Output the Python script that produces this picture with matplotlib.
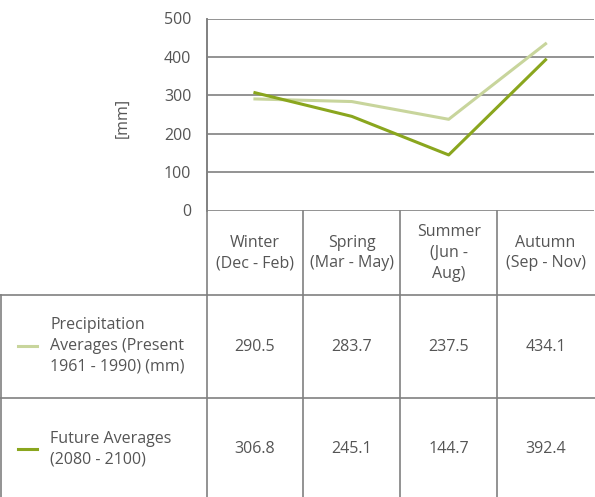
import matplotlib.pyplot as plt

seasons = ["Winter\n(Dec - Feb)", "Spring\n(Mar - May)", "Summer\n(Jun -\nAug)", "Autumn\n(Sep - Nov)"]
present = [290.5, 283.7, 237.5, 434.1]
future = [306.8, 245.1, 144.7, 392.4]
series_labels = ["Precipitation\nAverages (Present\n1961 - 1990) (mm)", "Future Averages\n(2080 - 2100)"]
yticks = [0, 100, 200, 300, 400, 500]

LIGHT = "#c8d59c"
DARK = "#8aa61e"
TEXT = "#555555"
GRID = "#808080"
W, H = 595, 497
FS = 11.5
LS = 1.38

plt.rcParams["font.family"] = ["Open Sans", "DejaVu Sans"]

fig = plt.figure(figsize=(W / 100, H / 100), dpi=100)

# overlay in pixel coordinates for the table
tab = fig.add_axes([0, 0, 1, 1])
tab.set_xlim(0, W)
tab.set_ylim(H, 0)
tab.axis("off")

# chart axes
x0, x1, ytop, ybot = 206.5, 594, 18.5, 210.5
ax = fig.add_axes([x0 / W, 1 - ybot / H, (x1 - x0) / W, (ybot - ytop) / H])
ax.set_xlim(0, len(seasons))
ax.set_ylim(0, 500)
ax.set_yticks(yticks)
ax.set_xticks([])
for s in ["top", "right", "bottom"]:
    ax.spines[s].set_visible(False)
ax.spines["left"].set_color(GRID)
ax.spines["left"].set_linewidth(1.2)
ax.grid(axis="y", color=GRID, linewidth=1.2)
ax.tick_params(axis="y", length=0, labelsize=FS, labelcolor=TEXT, pad=11)
ax.patch.set_alpha(0)

xs = [i + 0.5 for i in range(len(seasons))]
ax.plot(xs, present, color=LIGHT, linewidth=2.2, clip_on=False)
ax.plot(xs, future, color=DARK, linewidth=2.2, clip_on=False)

tab.text(123, 118, "[mm]", rotation=90, ha="center", va="center", fontsize=FS, color=TEXT)

# table lines
cols = [x0 + i * (x1 - x0) / len(seasons) for i in range(len(seasons) + 1)]
lc = dict(color=GRID, linewidth=1.2)
tab.plot([x0, x0], [ytop, 295], **lc)
for cx in cols[1:-1]:
    tab.plot([cx, cx], [ybot, H], **lc)
tab.plot([x0, x0], [295, H], **lc)
tab.plot([1, 1], [295, H], **lc)
tab.plot([0, W], [295, 295], **lc)
tab.plot([0, W], [398, 398], **lc)

for i, s in enumerate(seasons):
    cx = (cols[i] + cols[i + 1]) / 2
    tab.text(cx, 253, s, ha="center", va="center", fontsize=FS, color=TEXT, linespacing=LS)
    tab.text(cx, 347, f"{present[i]:.1f}", ha="center", va="center", fontsize=FS, color=TEXT)
    tab.text(cx, 449, f"{future[i]:.1f}", ha="center", va="center", fontsize=FS, color=TEXT)

for lab, col, yc in zip(series_labels, [LIGHT, DARK], [346, 449]):
    tab.plot([18, 37], [yc, yc], color=col, linewidth=2.2)
    tab.text(50, yc, lab, ha="left", va="center", fontsize=FS, color=TEXT, linespacing=LS)

fig.savefig("out.png", dpi=100)
